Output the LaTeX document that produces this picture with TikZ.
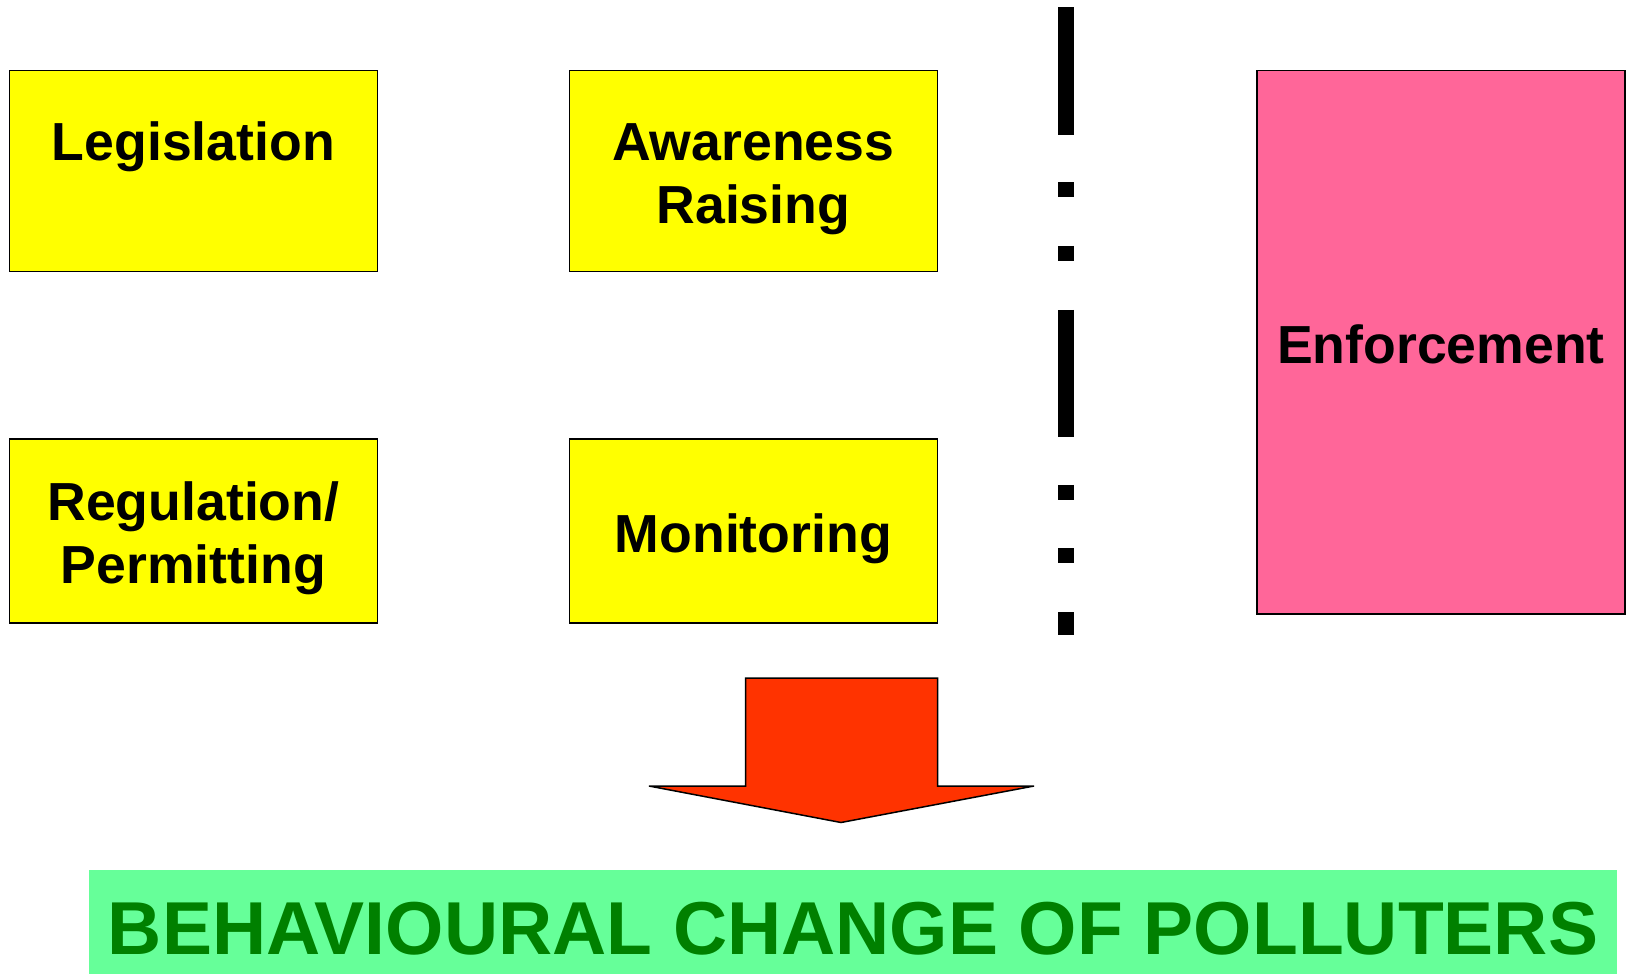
\documentclass[tikz,border=0pt]{standalone}
\usepackage{fontspec}
\setmainfont{Liberation Sans}
\definecolor{boxyellow}{RGB}{255,255,0}
\definecolor{enfpink}{RGB}{255,102,153}
\definecolor{arrowred}{RGB}{255,51,0}
\definecolor{bannergreen}{RGB}{102,255,153}
\definecolor{textgreen}{RGB}{0,128,0}
\newcommand\upstrut{\rule{0pt}{1em}}
\newcommand\downstrut{\rule[-0.21em]{0pt}{0.21em}}
\tikzset{
  toolbox/.style={draw=black, line width=1.5pt, minimum width=368pt, inner sep=0pt,
    align=center, font=\bfseries\fontsize{53.6}{63}\selectfont},
}

\begin{document}
\begin{tikzpicture}[x=1pt,y=-1pt]
\useasboundingbox (0,0) rectangle (1626,974);
% instruments
\node[toolbox, fill=boxyellow, minimum height=201pt] (legis) at (193.4,171.1) {\upstrut Legislation\\\downstrut};
\node[toolbox, fill=boxyellow, minimum height=201pt] (aware) at (753.3,171.1) {\upstrut Awareness\\Raising\downstrut};
\node[toolbox, fill=boxyellow, minimum height=184pt] (regul) at (193.4,530.9) {\upstrut Regulation/\\Permitting\downstrut};
\node[toolbox, fill=boxyellow, minimum height=184pt] (monit) at (753.3,530.9) {\upstrut Monitoring\downstrut};
% enforcement
\node[toolbox, fill=enfpink, minimum height=543.5pt] (enforce) at (1441,342.3) {\upstrut Enforcement\downstrut};
% divider
\draw[line width=16pt, dash pattern=on 127.5pt off 47.5pt on 15pt off 48.5pt on 15pt off 49pt]
  (1065.7,7.3) -- (1065.7,634.6);
% arrow
\draw[fill=arrowred, line width=1.5pt, line join=miter]
  (745.6,678) -- (937.5,678) -- (937.5,786) -- (1034,786) -- (841,822.5)
  -- (649,786) -- (745.6,786) -- cycle;
% result
\fill[bannergreen] (89,870) rectangle (1617,974);
\node[anchor=base, text=textgreen, inner sep=0pt, font=\bfseries\fontsize{75}{80}\selectfont]
  (result) at (853,954) {BEHAVIOURAL CHANGE OF POLLUTERS};
\end{tikzpicture}
\end{document}
